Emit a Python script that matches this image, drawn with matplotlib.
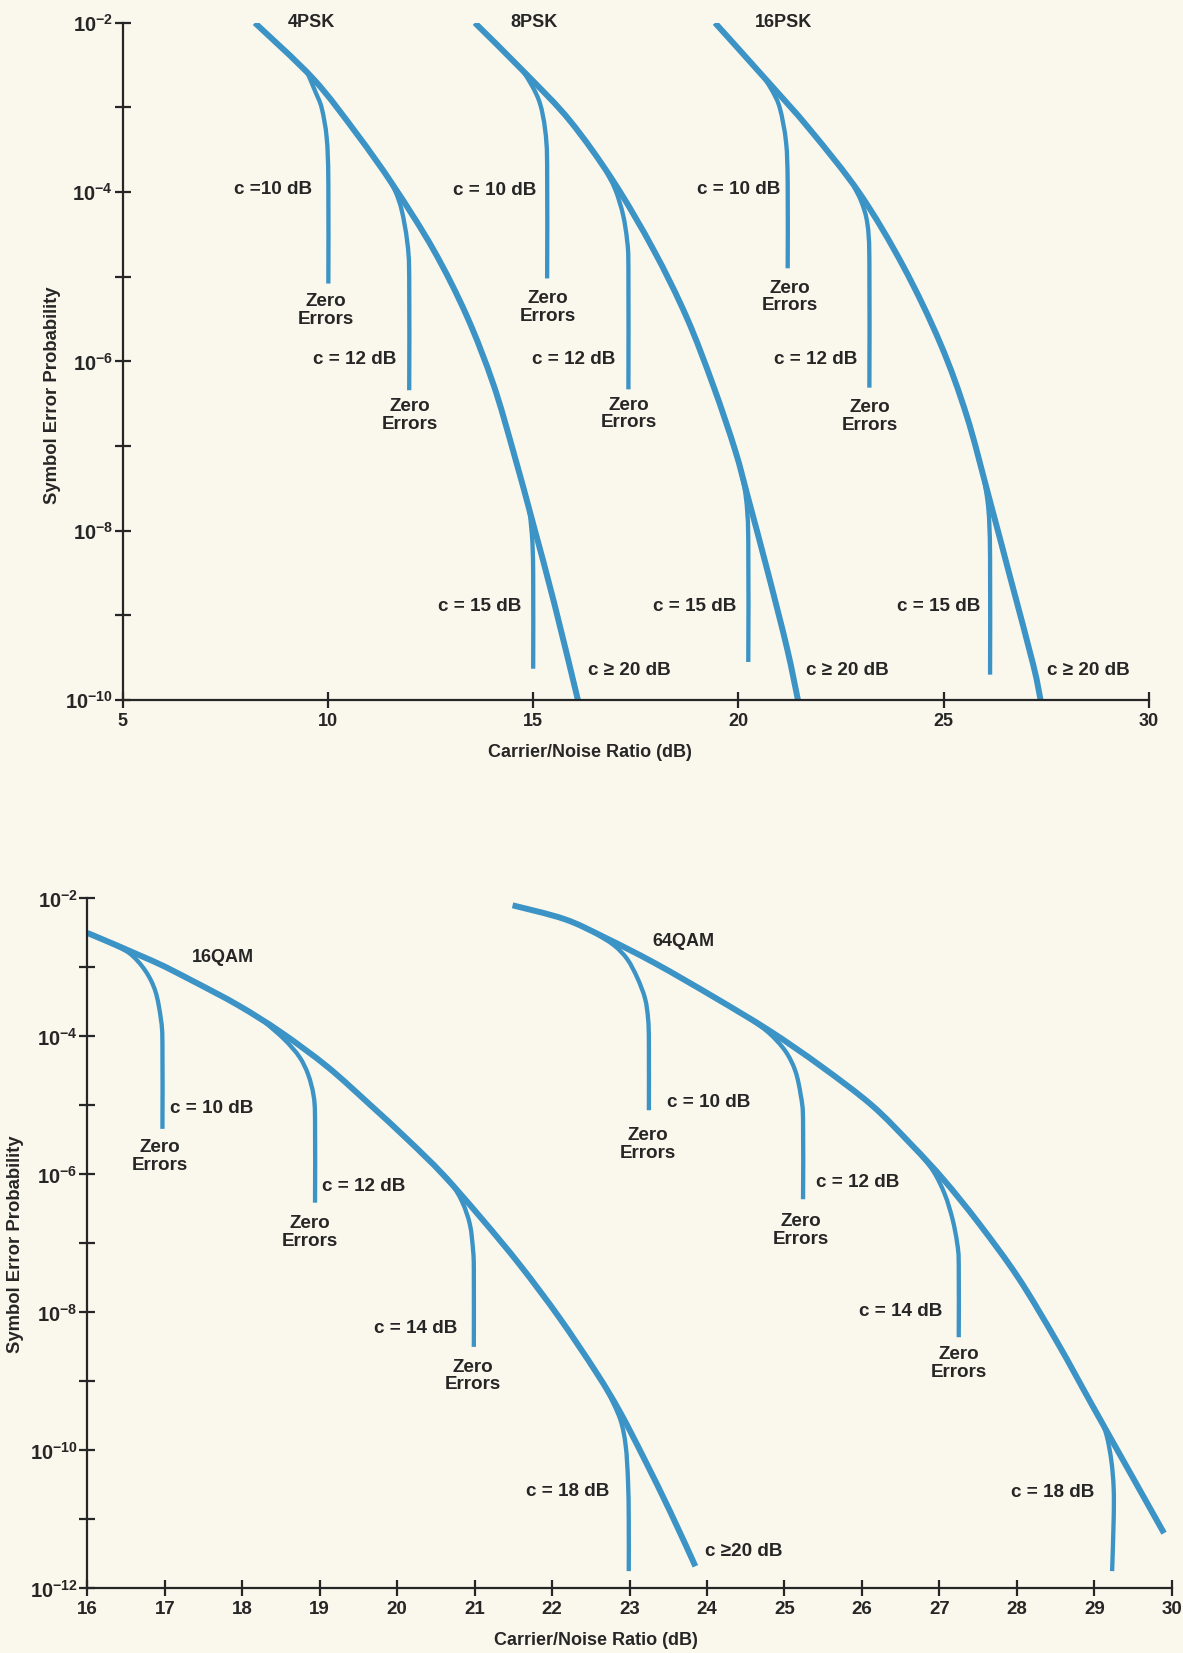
import numpy as np
import matplotlib
matplotlib.use("Agg")
import matplotlib.pyplot as plt
from matplotlib.path import Path
from matplotlib.patches import PathPatch

plt.rcParams['font.family'] = ['Liberation Sans', 'DejaVu Sans']
plt.rcParams['font.weight'] = 'bold'
plt.rcParams['mathtext.fontset'] = 'custom'
plt.rcParams['mathtext.rm'] = 'Liberation Sans:bold'
plt.rcParams['mathtext.bf'] = 'Liberation Sans:bold'
plt.rcParams['mathtext.it'] = 'Liberation Sans:bold'

BG = '#faf7ec'
BLUE = '#3b93c6'
INK = '#262626'

# ---------------- top panel data (x: C/N dB, y: log10 symbol error probability) -------------
psk4_main_x = [8.22, 9.64, 10.70, 11.59, 12.57, 13.38, 14.03, 14.52, 15.00, 15.52, 16.09]
psk4_main_y = [-2.0, -2.66, -3.31, -3.92, -4.68, -5.46, -6.27, -7.07, -7.92, -8.87, -10.0]
psk4_c10_x = [9.50, 9.70, 9.85, 9.97, 10.01, 10.01]
psk4_c10_y = [-2.59, -2.82, -3.01, -3.36, -3.87, -5.08]
psk4_c12_x = [11.45, 11.65, 11.80, 11.93, 11.98, 11.98]
psk4_c12_y = [-3.82, -4.00, -4.22, -4.58, -4.98, -6.34]
psk4_c15_x = [14.90, 14.97, 15.00, 15.00]
psk4_c15_y = [-7.74, -8.05, -8.50, -9.63]

psk8_main_x = [13.58, 14.84, 15.90, 16.95, 17.93, 18.74, 19.39, 19.92, 20.24, 20.69, 21.18, 21.45]
psk8_main_y = [-2.0, -2.61, -3.16, -3.87, -4.68, -5.48, -6.29, -7.05, -7.62, -8.44, -9.38, -10.0]
psk8_c10_x = [14.75, 14.98, 15.17, 15.29, 15.34, 15.34]
psk8_c10_y = [-2.57, -2.75, -2.96, -3.26, -3.67, -5.02]
psk8_c12_x = [16.75, 17.00, 17.19, 17.29, 17.32, 17.32]
psk8_c12_y = [-3.73, -3.97, -4.27, -4.58, -4.90, -6.33]
psk8_c15_x = [20.05, 20.18, 20.24, 20.24]
psk8_c15_y = [-7.28, -7.60, -8.10, -9.55]

psk16_main_x = [19.43, 20.69, 21.74, 22.96, 24.02, 24.92, 25.56, 26.09, 26.62, 27.18, 27.36]
psk16_main_y = [-2.0, -2.68, -3.26, -4.02, -4.88, -5.79, -6.64, -7.58, -8.55, -9.58, -10.0]
psk16_c10_x = [20.60, 20.82, 21.01, 21.16, 21.20, 21.20]
psk16_c10_y = [-2.63, -2.80, -3.01, -3.41, -3.90, -4.90]
psk16_c12_x = [22.80, 23.00, 23.14, 23.19, 23.19]
psk16_c12_y = [-3.92, -4.12, -4.37, -4.80, -6.31]
psk16_c15_x = [25.98, 26.09, 26.13, 26.13]
psk16_c15_y = [-7.38, -7.75, -8.30, -9.70]

# ---------------- bottom panel data ----------------
qam16_main_x = [16.0, 16.85, 17.35, 17.95, 18.50, 19.10, 19.64, 20.14, 20.59, 21.09, 21.59, 22.09, 22.57, 22.87, 23.18, 23.53, 23.85]
qam16_main_y = [-2.50, -2.91, -3.19, -3.55, -3.94, -4.44, -4.98, -5.50, -6.00, -6.64, -7.32, -8.07, -8.87, -9.43, -10.10, -10.90, -11.68]
qam16_c10_x = [16.30, 16.55, 16.75, 16.88, 16.95, 16.97, 16.97]
qam16_c10_y = [-2.65, -2.80, -3.05, -3.35, -3.75, -4.10, -5.34]
qam16_c12_x = [18.30, 18.55, 18.74, 18.85, 18.92, 18.94, 18.94]
qam16_c12_y = [-3.80, -4.05, -4.30, -4.55, -4.85, -5.20, -6.41]
qam16_c14_x = [20.45, 20.68, 20.84, 20.94, 20.98, 20.99, 20.99]
qam16_c14_y = [-5.84, -6.10, -6.40, -6.73, -7.10, -7.40, -8.50]
qam16_c18_x = [22.72, 22.88, 22.95, 22.98, 22.99, 22.99]
qam16_c18_y = [-9.15, -9.55, -9.93, -10.43, -11.0, -11.75]

qam64_main_x = [21.49, 22.16, 22.67, 23.33, 24.09, 24.81, 25.47, 26.13, 26.64, 27.05, 27.51, 28.02, 28.52, 28.98, 29.44, 29.90]
qam64_main_y = [-2.10, -2.30, -2.56, -2.94, -3.43, -3.92, -4.43, -5.00, -5.57, -6.07, -6.71, -7.50, -8.43, -9.36, -10.28, -11.20]
qam64_c10_x = [22.55, 22.80, 22.97, 23.10, 23.20, 23.24, 23.25, 23.25]
qam64_c10_y = [-2.50, -2.68, -2.88, -3.15, -3.45, -3.75, -4.10, -5.07]
qam64_c12_x = [24.55, 24.80, 25.01, 25.14, 25.21, 25.24, 25.24]
qam64_c12_y = [-3.74, -3.95, -4.21, -4.50, -4.85, -5.20, -6.36]
qam64_c14_x = [26.70, 26.92, 27.07, 27.17, 27.23, 27.25, 27.25]
qam64_c14_y = [-5.64, -5.95, -6.29, -6.65, -7.00, -7.30, -8.36]
qam64_c18_x = [28.95, 29.08, 29.16, 29.22, 29.25, 29.25, 29.23]
qam64_c18_y = [-9.30, -9.55, -9.79, -10.15, -10.55, -11.00, -11.75]

# ---------------- labels ----------------
top_titles = [("4PSK", 9.59, -2.0), ("8PSK", 15.01, -2.0), ("16PSK", 21.09, -2.0)]
top_labels = [
    ("c =10 dB", 8.67, -3.97), ("Zero\nErrors", 9.95, -5.40),
    ("c = 12 dB", 10.66, -5.98), ("Zero\nErrors", 12.0, -6.64),
    ("c = 15 dB", 13.70, -8.89), ("c \u2265 20 dB", 17.34, -9.65),
    ("c = 10 dB", 14.07, -3.98), ("Zero\nErrors", 15.37, -5.36),
    ("c = 12 dB", 15.99, -5.98), ("Zero\nErrors", 17.32, -6.62),
    ("c = 15 dB", 18.94, -8.89), ("c \u2265 20 dB", 22.66, -9.65),
    ("c = 10 dB", 20.0, -3.97), ("Zero\nErrors", 21.26, -5.24),
    ("c = 12 dB", 21.87, -5.98), ("Zero\nErrors", 23.2, -6.65),
    ("c = 15 dB", 24.87, -8.89), ("c \u2265 20 dB", 28.52, -9.65),
]
bottom_titles = [("16QAM", 17.75, -2.86), ("64QAM", 23.69, -2.63)]
bottom_labels = [
    ("c = 10 dB", 17.60, -5.05), ("Zero\nErrors", 16.94, -5.74),
    ("c = 12 dB", 19.57, -6.17), ("Zero\nErrors", 18.87, -6.84),
    ("c = 14 dB", 20.24, -8.24), ("Zero\nErrors", 20.98, -8.92),
    ("c = 18 dB", 22.20, -10.59), ("c \u226520 dB", 24.48, -11.46),
    ("c = 10 dB", 24.02, -4.96), ("Zero\nErrors", 23.24, -5.57),
    ("c = 12 dB", 25.95, -6.12), ("Zero\nErrors", 25.21, -6.81),
    ("c = 14 dB", 26.50, -7.98), ("Zero\nErrors", 27.25, -8.74),
    ("c = 18 dB", 28.46, -10.61),
]

top_xticks = [5, 10, 15, 20, 25, 30]
bottom_xticks = list(range(16, 31))
xlabel_text = "Carrier/Noise Ratio (dB)"
ylabel_text = "Symbol Error Probability"

fig = plt.figure(figsize=(11.83, 16.53), dpi=100, facecolor=BG)
ax1 = fig.add_axes([0.1037, 0.5765, 0.8675, 0.4097])
ax2 = fig.add_axes([0.0738, 0.0391, 0.9167, 0.4174])

def style(ax, xlim, ylo, xticks, xfs):
    ax.set_facecolor(BG)
    ax.set_yscale('log')
    ax.set_xlim(*xlim)
    ax.set_ylim(10.0 ** ylo, 1e-2)
    for s in ('top', 'right'):
        ax.spines[s].set_visible(False)
    for s in ('left', 'bottom'):
        ax.spines[s].set_linewidth(1.6)
        ax.spines[s].set_color(INK)
    exps = list(range(ylo, -1))
    ax.set_yticks([10.0 ** k for k in exps])
    ax.set_yticklabels([r'$10^{%d}$' % k if k % 2 == 0 else '' for k in exps])
    ax.yaxis.set_minor_locator(matplotlib.ticker.NullLocator())
    ax.set_xticks(xticks)
    ax.set_xticklabels([str(t) for t in xticks])
    ax.tick_params(axis='both', which='major', direction='inout', length=12,
                   width=1.6, color=INK, labelcolor=INK)
    ax.tick_params(axis='y', pad=1, labelsize=14.5)
    ax.tick_params(axis='x', pad=3, labelsize=xfs)

style(ax1, (5, 30), -10, top_xticks, 13)
style(ax2, (16, 30), -12, bottom_xticks, 13.5)

def curve(ax, xs, ys, lw):
    # smooth curve through the read points (Catmull-Rom as cubic Bezier, in x/log10(y) space)
    P = np.column_stack([np.asarray(xs, float), np.asarray(ys, float)])
    n = len(P)
    verts = [P[0]]
    codes = [Path.MOVETO]
    for i in range(n - 1):
        p0 = P[i - 1] if i > 0 else P[i]
        p1, p2 = P[i], P[i + 1]
        p3 = P[i + 2] if i + 2 < n else P[i + 1]
        verts += [p1 + (p2 - p0) / 6.0, p2 - (p3 - p1) / 6.0, p2]
        codes += [Path.CURVE4] * 3
    V = np.array(verts)
    V[:, 1] = 10.0 ** V[:, 1]
    ax.add_patch(PathPatch(Path(V, codes), fill=False, edgecolor=BLUE, lw=lw,
                           capstyle='butt', joinstyle='round'))

MAIN_LW = 4.3
BR_LW = 3.1
for xs, ys in [(psk4_main_x, psk4_main_y), (psk8_main_x, psk8_main_y), (psk16_main_x, psk16_main_y)]:
    curve(ax1, xs, ys, MAIN_LW)
for xs, ys in [(psk4_c10_x, psk4_c10_y), (psk4_c12_x, psk4_c12_y), (psk4_c15_x, psk4_c15_y),
               (psk8_c10_x, psk8_c10_y), (psk8_c12_x, psk8_c12_y), (psk8_c15_x, psk8_c15_y),
               (psk16_c10_x, psk16_c10_y), (psk16_c12_x, psk16_c12_y), (psk16_c15_x, psk16_c15_y)]:
    curve(ax1, xs, ys, BR_LW)

for xs, ys in [(qam16_main_x, qam16_main_y), (qam64_main_x, qam64_main_y)]:
    curve(ax2, xs, ys, MAIN_LW)
for xs, ys in [(qam16_c10_x, qam16_c10_y), (qam16_c12_x, qam16_c12_y), (qam16_c14_x, qam16_c14_y),
               (qam16_c18_x, qam16_c18_y), (qam64_c10_x, qam64_c10_y), (qam64_c12_x, qam64_c12_y),
               (qam64_c14_x, qam64_c14_y), (qam64_c18_x, qam64_c18_y)]:
    curve(ax2, xs, ys, BR_LW)

for ax, titles, labels in [(ax1, top_titles, top_labels), (ax2, bottom_titles, bottom_labels)]:
    for txt, x, y in titles:
        ax.text(x, 10.0 ** y, txt, ha='center', va='center', fontsize=13,
                fontweight='bold', color=INK, clip_on=False)
    for txt, x, y in labels:
        ax.text(x, 10.0 ** y, txt, ha='center', va='center', fontsize=13.6,
                fontweight='bold', color=INK, linespacing=1.05, clip_on=False)

fig.text(0.4987, 0.5445, xlabel_text, ha='center', va='center', fontsize=13,
         fontweight='bold', color=INK)
fig.text(0.5038, 0.0073, xlabel_text, ha='center', va='center', fontsize=13,
         fontweight='bold', color=INK)
fig.text(0.0448, 0.761, ylabel_text, ha='center', va='center', rotation=90,
         fontsize=13.3, fontweight='bold', color=INK)
fig.text(0.0135, 0.2474, ylabel_text, ha='center', va='center', rotation=90,
         fontsize=13.3, fontweight='bold', color=INK)

fig.savefig('out.png', dpi=100, facecolor=BG)
